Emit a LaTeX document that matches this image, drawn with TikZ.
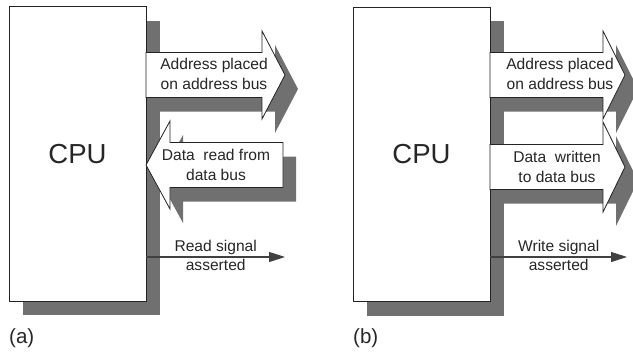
\documentclass[tikz,border=0pt]{standalone}
\usepackage{fontspec}
\setsansfont{Liberation Sans}
\usepackage{xcolor}
\usetikzlibrary{arrows.meta,calc,positioning,shadows}
\definecolor{busgray}{RGB}{112,112,112}
\definecolor{edge}{RGB}{35,35,35}
\tikzset{
  cpu/.style={
    draw=edge,
    line width=.7pt,
    fill=white,
    minimum width=4.11cm,
    minimum height=8.84cm,
    font=\sffamily\fontsize{23.5}{28}\selectfont,
    text=black!85,
    drop shadow={
      shadow xshift=.42cm,
      shadow yshift=-.42cm,
      opacity=1,
      fill=busgray
    }
  },
  bus/.style={
    draw=edge,
    line width=.7pt,
    fill=white,
    line join=miter
  },
  bus shadow/.style={
    fill=busgray,
    shift={(13,14)}
  },
  bus label/.style={
    font=\sffamily\fontsize{13.3}{17}\selectfont,
    text=black!85,
    align=center
  },
  sig line/.style={
    draw=black!75,
    line width=.9pt,
    -{Triangle[length=4.8mm,width=3mm]}
  },
  sig label/.style={
    font=\sffamily\fontsize{13.3}{17}\selectfont,
    text=black!85,
    inner sep=1.5pt
  },
  panel tag/.style={
    font=\sffamily\fontsize{17.5}{20}\selectfont,
    text=black!85,
    anchor=west,
    inner sep=0pt
  }
}

\begin{document}
\begin{tikzpicture}[x=0.3mm,y=-0.3mm]
  \useasboundingbox (0,0) rectangle (633,354);

  % (a) read cycle
  \node[cpu] (cpuA) at (77.5,154) {CPU};

  \path[bus shadow] (146,52.5) -- (262,52.5) -- (262,31) -- (285,75)
    -- (262,119) -- (262,97.5) -- (146,97.5) -- cycle;
  \path[bus shadow] (283,142.5) -- (170,142.5) -- (170,121) -- (146,165)
    -- (170,209) -- (170,187.5) -- (283,187.5) -- cycle;

  \draw[bus] (146,52.5) -- (262,52.5) -- (262,31) -- (285,75)
    -- (262,119) -- (262,97.5) -- (146,97.5) -- cycle;
  \draw[bus] (283,142.5) -- (170,142.5) -- (170,121) -- (146,165)
    -- (170,209) -- (170,187.5) -- (283,187.5) -- cycle;

  \node[bus label] (addrA) at (214,74) {Address placed\\on address bus};
  \node[bus label] (dataA) at (216,165) {Data\ \ read from\\data bus};

  \coordinate (readTip) at (285,257);
  \draw[sig line] (cpuA.east |- readTip) --
    node[sig label,above] (readTop) {Read signal}
    node[sig label,below] (readBot) {asserted}
    (readTip);

  \node[panel tag] (tagA) at (9,338) {(a)};

  % (b) write cycle
  \node[cpu] (cpuB) at (421.5,154.5) {CPU};

  \path[bus shadow] (490,52.5) -- (603,52.5) -- (603,31) -- (625,75)
    -- (603,119) -- (603,97.5) -- (490,97.5) -- cycle;
  \path[bus shadow] (490,144.5) -- (603,144.5) -- (603,122) -- (625,167)
    -- (603,212) -- (603,189.5) -- (490,189.5) -- cycle;

  \draw[bus] (490,52.5) -- (603,52.5) -- (603,31) -- (625,75)
    -- (603,119) -- (603,97.5) -- (490,97.5) -- cycle;
  \draw[bus] (490,144.5) -- (603,144.5) -- (603,122) -- (625,167)
    -- (603,212) -- (603,189.5) -- (490,189.5) -- cycle;

  \node[bus label] (addrB) at (560,74) {Address placed\\on address bus};
  \node[bus label] (dataB) at (557,167) {Data\ \ written\\to data bus};

  \coordinate (writeTip) at (627,257);
  \draw[sig line] (cpuB.east |- writeTip) --
    node[sig label,above] (writeTop) {Write signal}
    node[sig label,below] (writeBot) {asserted}
    (writeTip);

  \node[panel tag] (tagB) at (353,338) {(b)};
\end{tikzpicture}
\end{document}
